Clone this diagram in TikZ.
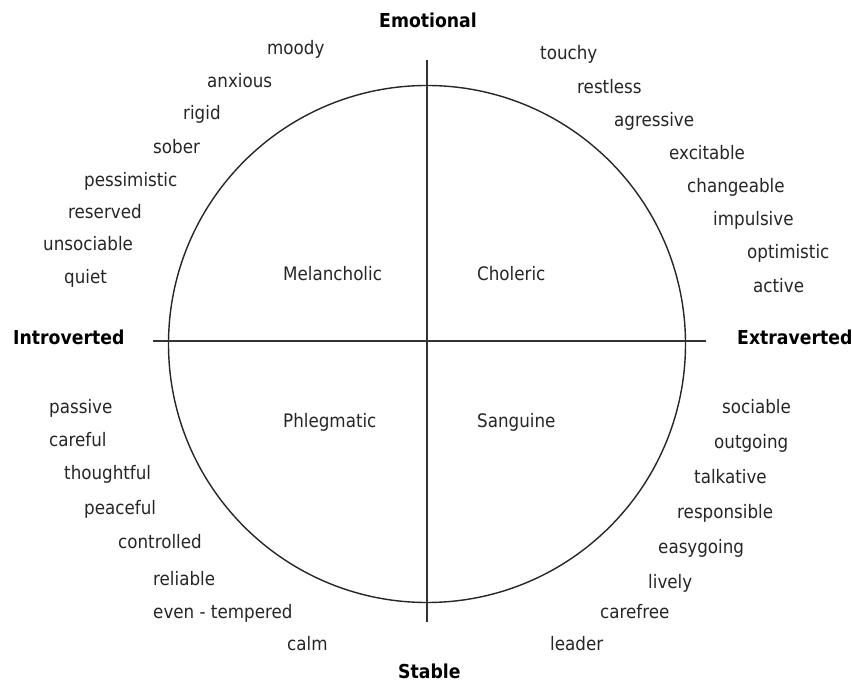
\documentclass[tikz,border=0pt]{standalone}
\usepackage{fontspec}
\newfontfamily\wfont{DejaVu Sans Condensed}[Scale=1]
\newfontfamily\bfontfam{DejaVu Sans Condensed Bold}
\begin{document}
\begin{tikzpicture}[x=1pt,y=-1pt,
  word/.style={font=\wfont\fontsize{18.6}{20}\selectfont, anchor=west, inner sep=0pt, text height=17pt, text depth=3.5pt, text=black!85},
  axislabel/.style={font=\bfontfam\fontsize{19.2}{21}\selectfont, inner sep=0pt, text height=15pt, text depth=3.5pt},
  axisline/.style={line width=1.5pt, black!80},
  ring/.style={line width=1.4pt, black!85}]
\useasboundingbox (0,0) rectangle (852,684);
\fill[white] (0,0) rectangle (852,684);
% axes
\coordinate (top) at (427,60);
\coordinate (bot) at (427,622);
\coordinate (lft) at (153,341);
\coordinate (rgt) at (706,341);
\coordinate (c) at (427,344);
\draw[ring] (c) circle[radius=258.5];
\draw[axisline] (top) -- (bot);
\draw[axisline] (lft) -- (rgt);
% axis labels
\node[axislabel, anchor=west] (emo) at (379,22) {Emotional};
\node[axislabel, anchor=west] (intro) at (13,339) {Introverted};
\node[axislabel, anchor=west] (extra) at (737,339) {Extraverted};
\node[axislabel, anchor=west] (stab) at (398,673) {Stable};
% quadrant names
\node[word] (mel) at (283,274) {Melancholic};
\node[word] (chol) at (477,274) {Choleric};
\node[word] (phl) at (283,421) {Phlegmatic};
\node[word] (san) at (477,421) {Sanguine};
% upper left
\node[word] (w1) at (267,48) {moody};
\node[word] (w2) at (207,81) {anxious};
\node[word] (w3) at (183,113) {rigid};
\node[word] (w4) at (153,147) {sober};
\node[word] (w5) at (84,180) {pessimistic};
\node[word] (w6) at (68,212) {reserved};
\node[word] (w7) at (43,244) {unsociable};
\node[word] (w8) at (64,277) {quiet};
% upper right
\node[word] (e1) at (540,53) {touchy};
\node[word] (e2) at (577,87) {restless};
\node[word] (e3) at (614,120) {agressive};
\node[word] (e4) at (669,153) {excitable};
\node[word] (e5) at (687,186) {changeable};
\node[word] (e6) at (713,219) {impulsive};
\node[word] (e7) at (747,252) {optimistic};
\node[word] (e8) at (753,286) {active};
% lower left
\node[word] (p1) at (49,407) {passive};
\node[word] (p2) at (49,440) {careful};
\node[word] (p3) at (64,473) {thoughtful};
\node[word] (p4) at (84,508) {peaceful};
\node[word] (p5) at (118,542) {controlled};
\node[word] (p6) at (153,579) {reliable};
\node[word] (p7) at (153,612) {even - tempered};
\node[word] (p8) at (287,644) {calm};
% lower right
\node[word] (s1) at (722,407) {sociable};
\node[word] (s2) at (714,442) {outgoing};
\node[word] (s3) at (694,477) {talkative};
\node[word] (s4) at (677,512) {responsible};
\node[word] (s5) at (658,547) {easygoing};
\node[word] (s6) at (648,582) {lively};
\node[word] (s7) at (600,612) {carefree};
\node[word] (s8) at (550,644) {leader};
\end{tikzpicture}
\end{document}
